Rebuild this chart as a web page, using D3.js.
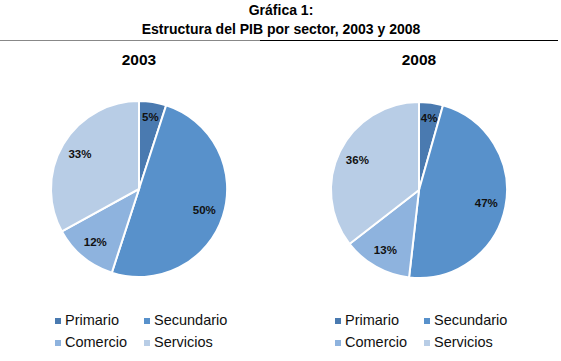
<!DOCTYPE html>
<html>
<head>
<meta charset="utf-8">
<script src="https://cdn.jsdelivr.net/npm/d3@7"></script>
<style>
  body { margin: 0; background: #fff; }
  text { font-family: "Liberation Sans", Arial, sans-serif; }
</style>
</head>
<body>
<svg id="chart" width="561" height="361"></svg>
<script>
// Data (shares in %)
const sectors = ["Primario", "Secundario", "Comercio", "Servicios"];
const years = ["2003", "2008"];
const values2003 = [5, 50, 12, 33];
const values2008 = [4.4, 47.4, 12.7, 35.5];
const colors = ["#4a7ab0", "#5891cb", "#8eb3de", "#b8cde6"];

const svg = d3.select("#chart");

// Title
svg.append("text")
  .attr("x", 281).attr("y", 15)
  .attr("text-anchor", "middle")
  .attr("font-weight", "bold").attr("font-size", 14)
  .text("Gráfica 1:");
svg.append("text")
  .attr("x", 281).attr("y", 34)
  .attr("text-anchor", "middle")
  .attr("font-weight", "bold").attr("font-size", 14)
  .text("Estructura del PIB por sector, 2003 y 2008");

// rule under the title
svg.append("line").attr("x1", 0).attr("x2", 260).attr("y1", 40.5).attr("y2", 40.5)
  .attr("stroke", "#888").attr("stroke-width", 1);
svg.append("line").attr("x1", 260).attr("x2", 558).attr("y1", 40.5).attr("y2", 40.5)
  .attr("stroke", "#000").attr("stroke-width", 1);

const pie = d3.pie().sort(null).value(d => d);
const radius = 88;
const arc = d3.arc().innerRadius(0).outerRadius(radius);
const labelArc = d3.arc().innerRadius(radius * 0.78).outerRadius(radius * 0.78);
const smallArc = d3.arc().innerRadius(radius * 0.83).outerRadius(radius * 0.83);

// one pie per year
function drawPie(values, year, cx, cy, legendX) {
  const g = svg.append("g").attr("transform", "translate(" + cx + "," + cy + ")");

  svg.append("text")
    .attr("x", cx).attr("y", 65)
    .attr("text-anchor", "middle")
    .attr("font-weight", "bold").attr("font-size", 15.5)
    .text(year);

  const arcs = pie(values);
  g.selectAll("path")
    .data(arcs)
    .enter()
    .append("path")
    .attr("d", arc)
    .attr("fill", (d, i) => colors[i])
    .attr("stroke", "#fff")
    .attr("stroke-width", 2);

  g.selectAll(".lbl")
    .data(arcs)
    .enter()
    .append("text")
    .attr("class", "lbl")
    .attr("transform", (d, i) => {
      // small slice label sits close to the rim
      const c = i === 0 ? smallArc.centroid(d) : labelArc.centroid(d);
      return "translate(" + c + ")";
    })
    .attr("dy", "0.35em")
    .attr("text-anchor", "middle")
    .attr("font-family", "Lato, 'Open Sans', sans-serif")
    .attr("font-weight", "bold")
    .attr("font-size", 11.5)
    .attr("fill", "#111")
    .text(d => Math.round(d.data) + "%");

  // legend, 2 x 2
  const legend = svg.append("g").attr("transform", "translate(" + legendX + ",0)");
  sectors.forEach((s, i) => {
    const col = i % 2, row = Math.floor(i / 2);
    const x = col * 89, y = 325 + row * 22;
    legend.append("rect")
      .attr("x", x).attr("y", y - 7)
      .attr("width", 6).attr("height", 6)
      .attr("fill", colors[i]);
    legend.append("text")
      .attr("x", x + 10).attr("y", y)
      .attr("font-size", 14.5)
      .attr("fill", "#111")
      .text(s);
  });
}

drawPie(values2003, years[0], 139, 189, 55);
drawPie(values2008, years[1], 419, 190, 335);
</script>
</body>
</html>
